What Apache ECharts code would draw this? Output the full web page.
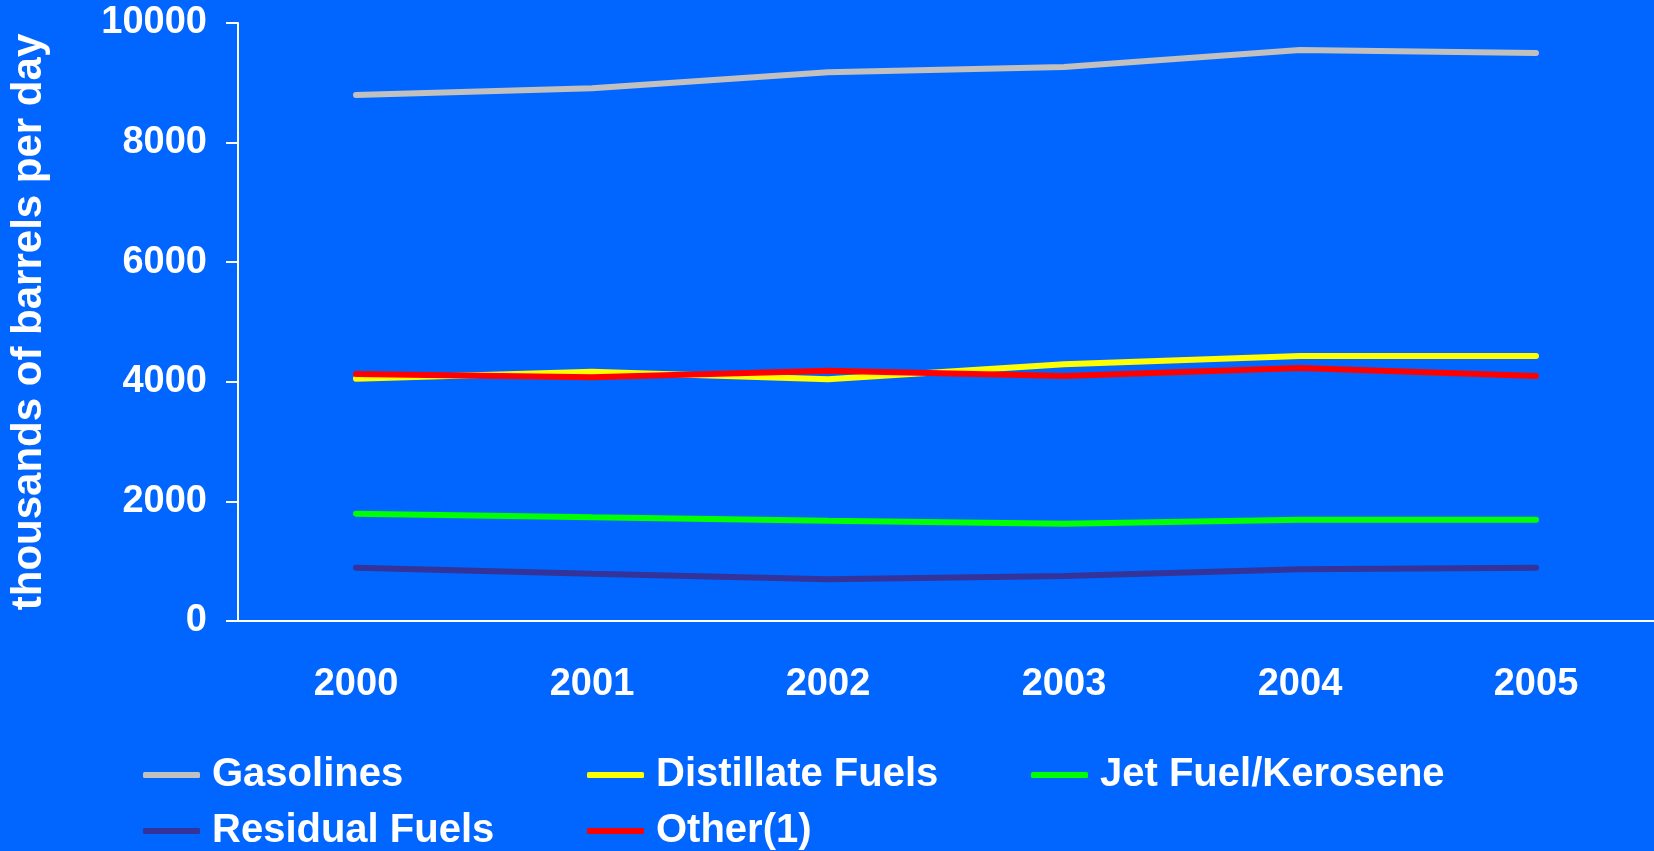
<!DOCTYPE html>
<html>
<head>
<meta charset="utf-8">
<script src="https://cdn.jsdelivr.net/npm/echarts@6/dist/echarts.min.js"></script>
<style>
  html, body { margin: 0; padding: 0; background: #0066ff; }
  #chart { width: 1654px; height: 851px; }
</style>
</head>
<body>
<div id="chart"></div>
<script>
var years = ['2000', '2001', '2002', '2003', '2004', '2005'];
var gasolines = [8796, 8908, 9175, 9264, 9548, 9498];
var distillate = [4052, 4169, 4041, 4292, 4431, 4431];
var jetFuel = [1795, 1734, 1678, 1627, 1694, 1694];
var residual = [892, 792, 697, 752, 864, 892];
var other = [4130, 4075, 4186, 4097, 4231, 4097];

var seriesNames = ['Gasolines', 'Distillate Fuels', 'Jet Fuel/Kerosene', 'Residual Fuels', 'Other(1)'];
var seriesColors = ['#c0c0c0', '#ffff00', '#00ff00', '#333399', '#ff0000'];
var seriesData = [gasolines, distillate, jetFuel, residual, other];

var font = "'Liberation Sans', Arial, sans-serif";
// legend slots: [left, top] for each series
var legendPos = [[143, 755], [587, 755], [1031, 755], [143, 811], [587, 811]];

var chart = echarts.init(document.getElementById('chart'));

var legends = seriesNames.map(function(name, i) {
    return {
        data: [name],
        left: legendPos[i][0],
        top: legendPos[i][1],
        padding: 0,
        icon: 'roundRect',
        itemWidth: 57,
        itemHeight: 6,
        textStyle: {
            color: '#fff',
            fontSize: 40,
            fontWeight: 'bold',
            fontFamily: font,
            padding: [0, 0, 0, 7]
        }
    };
});

var series = seriesNames.map(function(name, i) {
    return {
        name: name,
        type: 'line',
        data: seriesData[i],
        symbol: 'none',
        color: seriesColors[i],
        lineStyle: { width: 6, color: seriesColors[i], cap: 'round' }
    };
});

chart.setOption({
    backgroundColor: '#0066ff',
    animation: false,
    legend: legends,
    grid: { left: 238, right: 0, top: 23, bottom: 230 },
    xAxis: {
        type: 'category',
        data: years,
        boundaryGap: true,
        axisLine: { lineStyle: { color: '#fff', width: 2 } },
        axisTick: { length: 12, lineStyle: { color: '#fff', width: 2 } },
        axisLabel: {
            color: '#fff', fontSize: 38, fontWeight: 'bold', fontFamily: font, margin: 45
        }
    },
    yAxis: {
        type: 'value',
        min: 0,
        max: 10000,
        interval: 2000,
        name: 'thousands of barrels per day',
        nameLocation: 'middle',
        nameRotate: 90,
        nameGap: 188,
        nameTextStyle: { color: '#fff', fontSize: 42, fontWeight: 'bold', fontFamily: font },
        splitLine: { show: false },
        axisLine: { show: true, lineStyle: { color: '#fff', width: 2 } },
        axisTick: { show: true, length: 12, lineStyle: { color: '#fff', width: 2 } },
        axisLabel: {
            color: '#fff', fontSize: 38, fontWeight: 'bold', fontFamily: font, margin: 31,
            formatter: function(v) { return String(v); }
        }
    },
    series: series
});
</script>
</body>
</html>
